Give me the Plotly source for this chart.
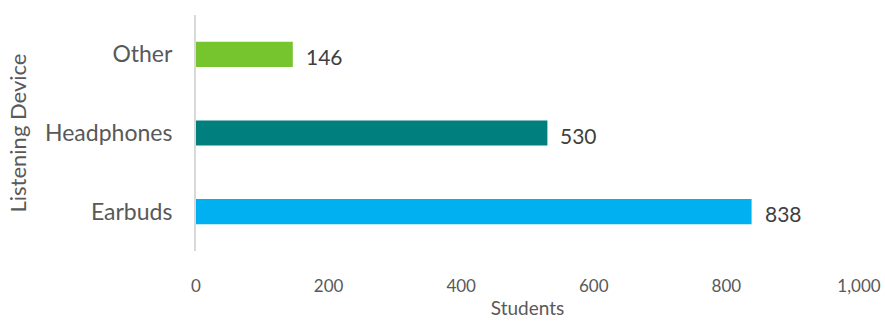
import plotly.graph_objects as go

devices = ["Earbuds", "Headphones", "Other"]
students = [838, 530, 146]
bar_colors = ["#00B0F0", "#007F7F", "#76C52F"]
x_ticks = [0, 200, 400, 600, 800, 1000]
x_tick_text = ["0", "200", "400", "600", "800", "1,000"]

FONT = "Lato, 'Open Sans', sans-serif"

fig = go.Figure(
    go.Bar(
        x=students,
        y=devices,
        orientation="h",
        marker=dict(color=bar_colors, line=dict(width=0)),
        width=0.32,
        hoverinfo="x+y",
    )
)

# value labels placed just past the end of each bar
for dev, val in zip(devices, students):
    fig.add_annotation(
        x=val,
        y=dev,
        text=str(val),
        showarrow=False,
        xanchor="left",
        yanchor="middle",
        xshift=11,
        yshift=-2,
        font=dict(family=FONT, size=21, color="#404040"),
    )

fig.update_layout(
    width=885,
    height=322,
    margin=dict(l=196, r=26, t=15, b=71),
    paper_bgcolor="white",
    plot_bgcolor="white",
    showlegend=False,
    font=dict(family=FONT, size=18, color="#595959"),
    xaxis=dict(
        range=[0, 1000],
        tickvals=x_ticks,
        ticktext=x_tick_text,
        showgrid=False,
        zeroline=False,
        showline=False,
        ticks="",
        automargin=False,
        ticklabelstandoff=23,
        tickfont=dict(size=17, color="#595959"),
        title=dict(text="Students", font=dict(size=19, color="#595959"), standoff=6),
    ),
    yaxis=dict(
        categoryorder="array",
        categoryarray=devices,
        range=[-0.5, 2.5],
        showgrid=False,
        zeroline=False,
        showline=True,
        linecolor="#D9D9D9",
        linewidth=2,
        ticks="",
        automargin=False,
        ticklabelstandoff=17,
        tickfont=dict(size=23, color="#595959"),
        title=dict(text="Listening Device", font=dict(size=22, color="#595959"), standoff=12),
    ),
)

fig.write_html("out.html")
